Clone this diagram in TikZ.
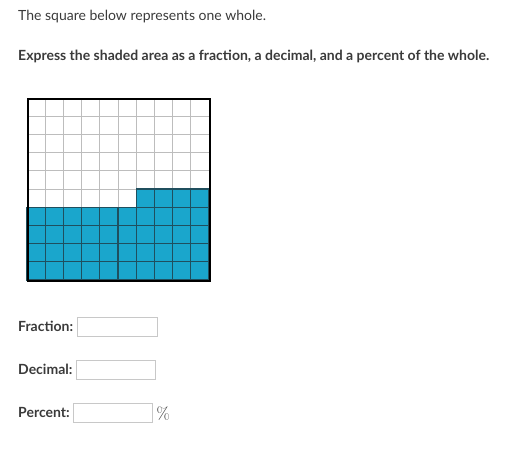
\documentclass[tikz,border=0pt]{standalone}
\usepackage{fontspec}
\setmainfont{Lato}
\definecolor{shade}{HTML}{1AA6CC}
\definecolor{darkline}{HTML}{1F4F5E}
\definecolor{lightline}{HTML}{BDBDBD}
\definecolor{txt}{HTML}{3A3A3A}
\definecolor{boxline}{HTML}{C8C8C8}
\tikzset{
  lbl/.style={anchor=base west, inner sep=0pt, text=txt, font=\fontsize{14}{16}\selectfont\bfseries},
  ansbox/.style={draw=boxline, line width=0.8pt, fill=white},
  cellshade/.style={fill=shade, draw=darkline, line width=1.2pt}
}
\begin{document}
\begin{tikzpicture}[x=1pt,y=-1pt]
\useasboundingbox (0,0) rectangle (519,450);
\node[anchor=base west, inner sep=0pt, text=txt, font=\fontsize{14}{16}\selectfont] (t1) at (18,20.5) {The square below represents one whole.};
\node[anchor=base west, inner sep=0pt, text=txt, font=\fontsize{14}{16}\selectfont\bfseries] (t2) at (18,60.5) {Express the shaded area as a fraction, a decimal, and a percent of the whole.};
% grid
\def\gx{27}\def\gy{98}\def\gc{18.2}
\foreach \i in {1,...,9}{
  \draw[lightline, line width=1pt] ({\gx+\i*\gc},\gy) -- ({\gx+\i*\gc},{\gy+10*\gc});
  \draw[lightline, line width=1pt] (\gx,{\gy+\i*\gc}) -- ({\gx+10*\gc},{\gy+\i*\gc});
}
\foreach \c in {0,...,9}{
  \foreach \r in {6,...,9}{
    \draw[cellshade] ({\gx+\c*\gc},{\gy+\r*\gc}) rectangle ++(\gc,\gc);
  }
}
\foreach \c in {6,...,9}{
  \draw[cellshade] ({\gx+\c*\gc},{\gy+5*\gc}) rectangle ++(\gc,\gc);
}
\node[draw=black, line width=1.6pt, minimum width=182pt, minimum height=182pt, inner sep=0pt, anchor=north west] (sq) at (\gx,\gy) {};
% answer fields
\node[lbl] (fl) at (18,331.5) {Fraction:};
\node[ansbox, anchor=north west, minimum width=80pt, minimum height=19pt, inner sep=0pt] (fb) at (77,317) {};
\node[lbl] (dl) at (18,374.5) {Decimal:};
\node[ansbox, anchor=north west, minimum width=79pt, minimum height=19pt, inner sep=0pt] (db) at (76,360) {};
\node[lbl] (pl) at (18,417.5) {Percent:};
\node[ansbox, anchor=north west, minimum width=79pt, minimum height=19pt, inner sep=0pt] (pb) at (73,403) {};
\node[anchor=base west, inner sep=0pt, text=txt, font=\fontspec{Latin Modern Roman}\fontsize{17}{19}\selectfont] (pc) at (156.5,419) {\%};
\end{tikzpicture}
\end{document}
